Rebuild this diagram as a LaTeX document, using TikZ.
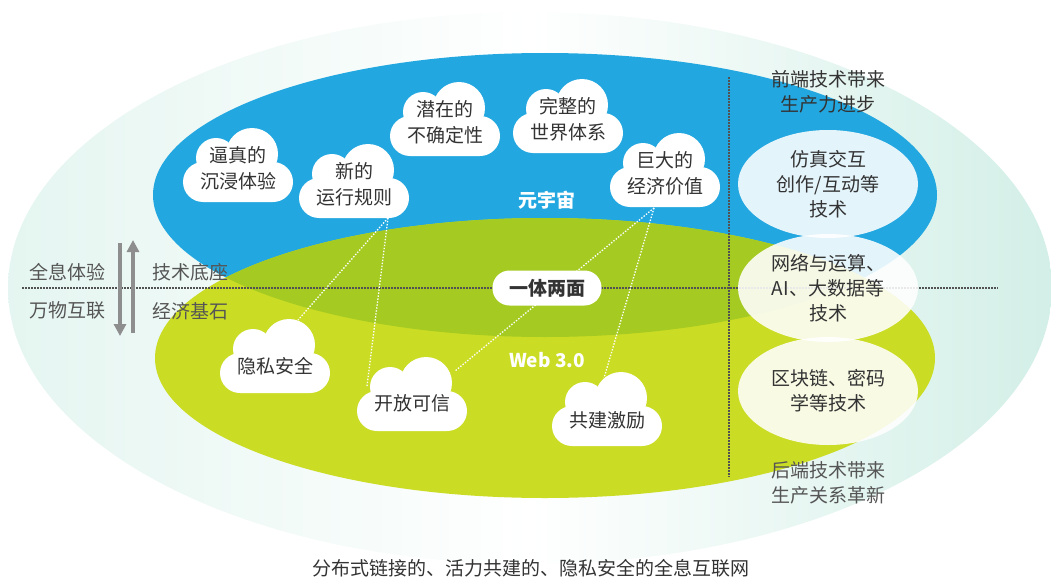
\documentclass[tikz,border=0pt]{standalone}
\usepackage{fontspec}
\setmainfont{Noto Sans CJK SC}
\usetikzlibrary{shapes,arrows.meta,calc}
\definecolor{mvblue}{HTML}{22A7E0}
\definecolor{mvgreen}{HTML}{CBDC24}
\definecolor{mvoverlap}{HTML}{A5CB22}
\definecolor{mvmint}{HTML}{D3EFE7}
\definecolor{mvgray}{HTML}{8E8E8E}
\definecolor{mvtext}{HTML}{333333}
\definecolor{mvsoft}{HTML}{555555}
\newcommand{\mvfont}{\fontsize{19}{26}\selectfont}
\newcommand{\mvcloud}[4] {
  \begin{scope}[shift={(#1)}]
    \fill [white, rounded corners=20pt] (-55,-6) rectangle (55,34);
    \fill [white] (-22,-10) circle (20pt);
    \fill [white] (14,-14) circle (26pt);
  \end{scope}
  \node at (#1) (#2) [cloudbox] {};
  \node at (#1) (#2txt) [cloudtext, yshift=-#4pt] {#3};}
\newcommand{\mvtech}[3] {\node at (#1) (#2) [techoval] {#3};}
\newcommand{\mvlabel}[3] {\node at (#1) (#2) [sidetext] {#3};}
\newcommand{\mvsoftlabel}[3] {\node at (#1) (#2) [sidetext, text=mvsoft] {#3};}
\newcommand{\mvlink}[2] {\draw [linkdots] (#1) -- (#2);}

\begin{document}
\begin{tikzpicture}[x=1pt, y=-1pt,
  cloudbox/.style={rectangle, minimum width=110pt, minimum height=80pt, inner sep=0pt},
  cloudtext/.style={align=center, text=mvtext, font=\mvfont, inner sep=0pt},
  techoval/.style={ellipse, fill=white, fill opacity=0.88, text opacity=1, text=mvtext,
    align=center, font=\fontsize{19}{25}\selectfont, inner sep=0pt,
    minimum width=180pt, minimum height=108pt},
  sidetext/.style={align=center, text=mvtext, font=\fontsize{19}{25}\selectfont, inner sep=0pt},
  linkdots/.style={white, line width=1.3pt, dash pattern=on 1.4pt off 1.6pt},
  griddots/.style={mvtext!85, line width=1.5pt, dash pattern=on 1.5pt off 1.5pt},
  bigarrow/.style={mvgray, line width=3.5pt, -{Triangle[width=12pt, length=12pt]}}]

\useasboundingbox (0,0) rectangle (1051,578);
\shade [left color=mvmint!60!white, right color=mvmint, middle color=white]
  (530,288) ellipse [x radius=522pt, y radius=276pt];
\fill [mvblue] (545,195) ellipse [x radius=392pt, y radius=142pt];
\fill [mvgreen] (545,358) ellipse [x radius=390pt, y radius=140pt];
\begin{scope}
  \clip (545,358) ellipse [x radius=390pt, y radius=140pt];
  \fill [mvoverlap] (545,195) ellipse [x radius=392pt, y radius=142pt];
\end{scope}

\coordinate (hleft) at (22,288);
\coordinate (hright) at (998,288);
\coordinate (vtop) at (729,77);
\coordinate (vbot) at (729,477);
\draw [griddots] (hleft) -- (hright);
\draw [griddots] (vtop) -- (vbot);

\coordinate (downtail) at (120,243);
\coordinate (downtip) at (120,336);
\coordinate (uptail) at (133,333);
\coordinate (uptip) at (133,240);
\draw [bigarrow] (downtail) -- (downtip);
\draw [bigarrow] (uptail) -- (uptip);

\mvcloud {238,168}{realexp}{逼真的\\沉浸体验}{0}
\mvcloud {354,184}{newrule}{新的\\运行规则}{0}
\mvcloud {445,122}{uncertain}{潜在的\\不确定性}{0}
\mvcloud {568,119}{worldsys}{完整的\\世界体系}{0}
\mvcloud {665,173}{econ}{巨大的\\经济价值}{0}
\mvcloud {275,359}{privacy}{隐私安全}{7}
\mvcloud {412,397}{openness}{开放可信}{6}
\mvcloud {607,412}{incentive}{共建激励}{8}

\mvlink {$(newrule)+(34,34)$}{$(privacy)+(23,-39)$}
\mvlink {$(newrule)+(34,34)$}{$(openness)+(-45,-11)$}
\mvlink {$(econ)+(-11,35)$}{$(openness)+(43,-26)$}
\mvlink {$(econ)+(-11,35)$}{$(incentive)+(-3,-34)$}

\node at (547,200) (meta) [text=white, font=\fontsize{19}{24}\selectfont\bfseries] {元宇宙};
\node at (547,360) (web) [text=white, font=\fontsize{19}{24}\selectfont\bfseries] {Web 3.0};
\node at (547,288) (twoface) [rectangle, rounded corners=17pt, fill=white, minimum width=109pt,
  minimum height=35pt, text=mvtext, font=\fontsize{19}{24}\selectfont\bfseries] {一体两面};

\mvtech {828,184}{frontoval}{仿真交互\\创作/互动等\\技术}
\mvtech {828,288}{netoval}{网络与运算、\\AI、大数据等\\技术}
\mvtech {828,391}{chainoval}{区块链、密码\\学等技术}

\mvlabel {828,92}{fronttext}{前端技术带来\\生产力进步}
\mvsoftlabel {828,483}{backtext}{后端技术带来\\生产关系革新}
\mvsoftlabel {67,272}{holoexp}{全息体验}
\mvsoftlabel {67,310}{iot}{万物互联}
\mvsoftlabel {190,272}{techbase}{技术底座}
\mvsoftlabel {190,311}{econbase}{经济基石}
\mvlabel {531,568}{caption}{分布式链接的、活力共建的、隐私安全的全息互联网}

\end{tikzpicture}
\end{document}
